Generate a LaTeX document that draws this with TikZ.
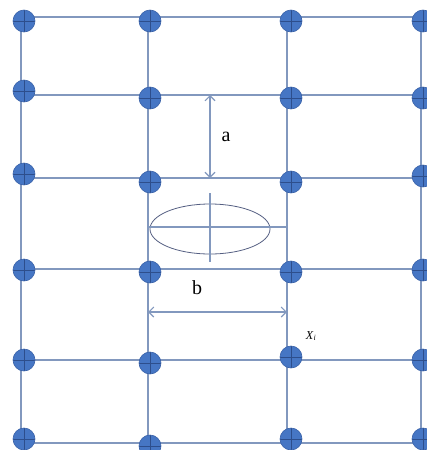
\documentclass[tikz,border=0pt]{standalone}
\usepackage{fontspec}
\setmainfont{Liberation Serif}
\usetikzlibrary{arrows.meta}
\definecolor{gridc}{RGB}{130,152,190}
\definecolor{dotc}{RGB}{70,118,196}
\definecolor{dotedge}{RGB}{58,98,168}
\definecolor{crossc}{RGB}{45,78,140}
\definecolor{ellc}{RGB}{85,95,130}
\begin{document}
\begin{tikzpicture}[x=1pt,y=-1pt,
  gridline/.style={draw=gridc,line width=1.2pt},
  dimline/.style={draw=gridc,line width=1.1pt,{Straight Barb[length=5pt,width=10pt]}-{Straight Barb[length=5pt,width=10pt]}},
  dotnode/.style={circle,fill=dotc,draw=dotedge,line width=0.6pt,minimum size=22pt,inner sep=0pt,
    path picture={\draw[crossc,line width=0.6pt]
      (path picture bounding box.north) -- (path picture bounding box.south)
      (path picture bounding box.west) -- (path picture bounding box.east);}},
  lbl/.style={inner sep=0pt,font=\fontsize{20}{22}\selectfont}]
\useasboundingbox (0,0) rectangle (427,450);
% grid coordinates
\foreach \n/\x in {1/21,2/148,3/287,4/421}{
  \coordinate (vt\n) at (\x,17);
  \coordinate (vb\n) at (\x,443);
  \draw[gridline] (vt\n) -- (vb\n);
}
\foreach \n/\y in {1/17,2/95,3/178,4/269,5/360,6/443}{
  \coordinate (hl\n) at (21,\y);
  \coordinate (hr\n) at (421,\y);
  \draw[gridline] (hl\n) -- (hr\n);
}
% ellipse with axes
\coordinate (ec) at (210,229);
\draw[ellc,line width=0.8pt] (ec) ellipse [x radius=60, y radius=25];
\coordinate (eh1) at (148,227);
\coordinate (eh2) at (287,227);
\coordinate (ev1) at (210,193);
\coordinate (ev2) at (210,262);
\draw[gridline] (eh1) -- (eh2);
\draw[gridline] (ev1) -- (ev2);
% dimension a
\coordinate (a1) at (210,95);
\coordinate (a2) at (210,178);
\draw[dimline] (a1) -- (a2);
\node[lbl] (la) at (226,137) {a};
% dimension b
\coordinate (b1) at (148,312);
\coordinate (b2) at (287,312);
\draw[dimline] (b1) -- (b2);
\node[lbl] (lb) at (197,288) {b};
% dots
\foreach \c/\x/\ya/\yb/\yc/\yd/\ye/\yf in {
  1/24/21/91/174/270/360/439,
  2/150/21/98/182/272/363/446,
  3/291/21/98/182/272/357/439,
  4/423/21/98/176/270/360/439}{
  \node[dotnode] (d\c-1) at (\x,\ya) {};
  \node[dotnode] (d\c-2) at (\x,\yb) {};
  \node[dotnode] (d\c-3) at (\x,\yc) {};
  \node[dotnode] (d\c-4) at (\x,\yd) {};
  \node[dotnode] (d\c-5) at (\x,\ye) {};
  \node[dotnode] (d\c-6) at (\x,\yf) {};
}
\node[inner sep=0pt,font=\fontsize{12}{14}\selectfont] (xi) at (311,336) {\textit{X}\textsubscript{\textit{i}}};
\end{tikzpicture}
\end{document}
